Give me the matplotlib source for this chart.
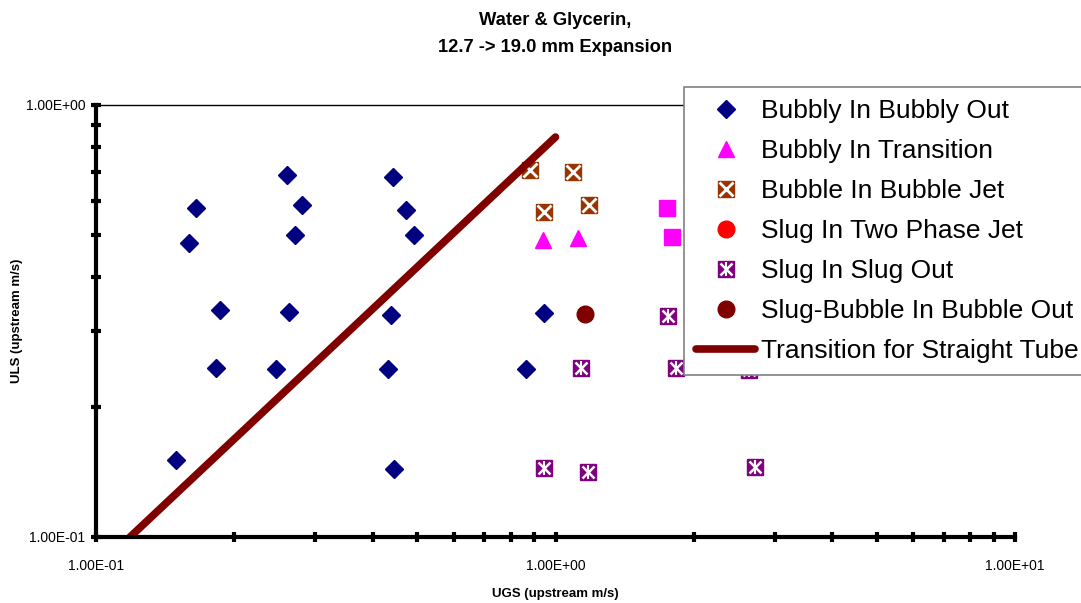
#!/usr/bin/env python3

import matplotlib.pyplot as plt
import numpy as np
from matplotlib.ticker import FixedLocator, FuncFormatter, NullFormatter

plt.rcParams['font.family'] = ['Liberation Sans', 'DejaVu Sans']

# data (UGS, ULS in m/s)
bb_x = [0.165, 0.159, 0.186, 0.182, 0.149, 0.260, 0.281, 0.271, 0.263, 0.247,
        0.443, 0.473, 0.492, 0.439, 0.432, 0.445, 0.944, 0.863]
bb_y = [0.578, 0.479, 0.335, 0.246, 0.151, 0.689, 0.587, 0.500, 0.332, 0.245,
        0.681, 0.572, 0.500, 0.327, 0.245, 0.144, 0.330, 0.245]

bt_x = [0.939, 1.119]
bt_y = [0.487, 0.492]

bt_sq_x = [1.749, 1.793]
bt_sq_y = [0.578, 0.495]

bj_x = [0.880, 1.092, 0.944, 1.183]
bj_y = [0.707, 0.700, 0.565, 0.587]

sj_x = []
sj_y = []

ss_x = [1.136, 1.829, 2.637, 1.757, 0.944, 1.177, 2.718]
ss_y = [0.246, 0.246, 0.244, 0.325, 0.1445, 0.1414, 0.1452]

sb_x = [1.159]
sb_y = [0.328]

tr_x = [0.1186, 1.0]
tr_y = [0.1, 0.843]

fig = plt.figure(figsize=(10.81, 6.03), dpi=100)
ax = fig.add_axes([96/1081, 66/603, 919/1081, 432/603])
ax.set_xscale('log')
ax.set_yscale('log')
ax.set_xlim(0.1, 10)
ax.set_ylim(0.1, 1)

ms = 11
h_bb, = ax.plot(bb_x, bb_y, 'D', color='#000080', ms=9.5, ls='none')
h_bt, = ax.plot(bt_x, bt_y, '^', color='#ff00ff', ms=12, ls='none')
ax.plot(bt_sq_x, bt_sq_y, 's', color='#ff00ff', ms=11.5, ls='none')
h_bj1, = ax.plot(bj_x, bj_y, 's', color='#993300', ms=ms, ls='none')
h_bj2, = ax.plot(bj_x, bj_y, 'x', color='white', ms=ms * 0.95, mew=2, ls='none')
h_sj, = ax.plot(sj_x, sj_y, 'o', color='#ff0000', ms=12, ls='none')
h_ss1, = ax.plot(ss_x, ss_y, 's', color='#800080', ms=ms, ls='none')
h_ss2, = ax.plot(ss_x, ss_y, 'x', color='white', ms=ms * 0.8, mew=1.8, ls='none')
h_ss3, = ax.plot(ss_x, ss_y, '|', color='white', ms=ms * 0.9, mew=1.5, ls='none')
h_sb, = ax.plot(sb_x, sb_y, 'o', color='#800000', ms=12, ls='none')
h_tr, = ax.plot(tr_x, tr_y, '-', color='#800000', lw=5.5, solid_capstyle='round')

for s in ['left', 'bottom']:
    ax.spines[s].set_linewidth(3)
ax.spines['top'].set_linewidth(1)
ax.spines['right'].set_visible(False)

fmt = FuncFormatter(lambda v, p: f"{v:.2E}")
ax.xaxis.set_major_locator(FixedLocator([0.1, 1, 10]))
ax.yaxis.set_major_locator(FixedLocator([0.1, 1]))
ax.xaxis.set_minor_locator(FixedLocator([a * 10.0**k for k in (-1, 0) for a in range(2, 10)]))
ax.yaxis.set_minor_locator(FixedLocator([a * 0.1 for a in range(2, 10)]))
ax.xaxis.set_major_formatter(fmt)
ax.yaxis.set_major_formatter(fmt)
ax.xaxis.set_minor_formatter(NullFormatter())
ax.yaxis.set_minor_formatter(NullFormatter())
ax.tick_params(which='both', direction='inout', length=7, width=3, labelsize=10,
               top=False, right=False)
ax.tick_params(axis='x', pad=12)
ax.tick_params(axis='y', pad=4)

ax.set_xlabel('UGS (upstream m/s)', fontsize=9.5, fontweight='bold', labelpad=11)
ax.set_ylabel('ULS (upstream m/s)', fontsize=9.5, fontweight='bold', labelpad=2)
fig.text(555/1081, 1 - 34/603, 'Water & Glycerin,\n12.7 -> 19.0 mm Expansion',
         ha='center', va='center', fontsize=13.2, fontweight='bold', linespacing=1.75)

handles = [h_bb, h_bt, (h_bj1, h_bj2), h_sj, (h_ss1, h_ss2, h_ss3), h_sb, h_tr]
labels = ['Bubbly In Bubbly Out', 'Bubbly In Transition', 'Bubble In Bubble Jet',
          'Slug In Two Phase Jet', 'Slug In Slug Out', 'Slug-Bubble In Bubble Out',
          'Transition for Straight Tube']
leg = fig.legend(handles, labels, loc='upper left', bbox_to_anchor=(684/1081, 1 - 87/603),
                 fontsize=19, frameon=True, fancybox=False, framealpha=1,
                 edgecolor='#808080', borderpad=0.45, labelspacing=0.61,
                 handlelength=2.25, handletextpad=0.2, borderaxespad=0)
leg.get_frame().set_linewidth(1.2)

fig.savefig('out.png', dpi=100)
